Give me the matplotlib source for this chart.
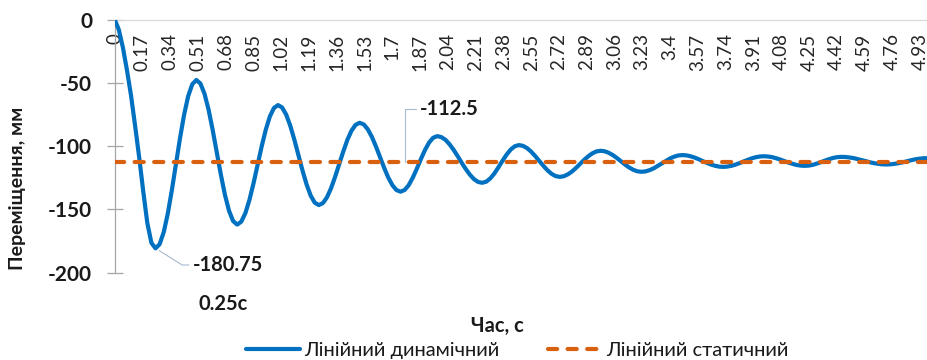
# plot.py
# Linear dynamic vs. linear static displacement (Excel-style chart)

import numpy as np
import matplotlib
matplotlib.use("Agg")
import matplotlib.pyplot as plt

plt.rcParams["font.family"] = ["Lato", "Noto Sans", "DejaVu Sans"]

# ── Data (time step 0.025 s) ────────────────────────────────────
TIME_STEP = 0.025
disp_dynamic = [
    0, -8, -22, -40, -60, -84, -109, -136, -161, -176.5, -180.75,
    -177.5, -168.1, -153.4, -134.8, -114.3, -93.7, -75.2, -60.5, -51.1, -47.8,
    -50.6, -58.7, -71.3, -87.3, -104.9, -122.5, -138.5, -151.1, -159.2, -162.0,
    -159.7, -153.0, -142.5, -129.4, -114.8, -100.2, -87.1, -76.6, -69.9, -67.6,
    -69.5, -75.1, -83.9, -94.9, -107.1, -119.3, -130.3, -139.1, -144.7, -146.6,
    -145.0, -140.4, -133.2, -124.1, -114.1, -104.1, -95.0, -87.8, -83.2, -81.6,
    -82.9, -86.8, -92.8, -100.4, -108.8, -117.2, -124.8, -130.8, -134.7, -136.0,
    -134.7, -130.9, -125.0, -117.9, -110.2, -103.1, -97.2, -93.4, -92.1,
    -92.9, -95.0, -98.5, -102.9, -107.9, -113.2, -118.2, -122.6, -126.1, -128.3, -129.0,
    -128.1, -125.5, -121.6, -116.7, -111.5, -106.7, -102.7, -100.1, -99.2,
    -99.8, -101.6, -104.4, -107.9, -111.8, -115.6, -119.1, -121.9, -123.7, -124.3,
    -123.8, -122.3, -120.1, -117.2, -114.0, -110.8, -108.0, -105.7, -104.2, -103.7,
    -104.1, -105.3, -107.1, -109.4, -112.0, -114.6, -116.9, -118.7, -119.9, -120.3,
    -120.0, -119.0, -117.6, -115.7, -113.7, -111.7, -109.8, -108.4, -107.4, -107.1,
    -107.3, -108.0, -109.0, -110.3, -111.8, -113.2, -114.5, -115.5, -116.2, -116.4,
    -116.2, -115.6, -114.7, -113.5, -112.2, -110.9, -109.7, -108.8, -108.2, -108.0,
    -108.2, -108.7, -109.6, -110.6, -111.8, -113.0, -114.0, -114.9, -115.4, -115.6,
    -115.4, -114.8, -113.8, -112.7, -111.4, -110.3, -109.3, -108.7, -108.5,
    -108.6, -109.0, -109.5, -110.3, -111.1, -111.9, -112.8, -113.5, -114.0, -114.4, -114.5,
    -114.4, -114.0, -113.5, -112.8, -112.0, -111.2, -110.5, -110.0, -109.6, -109.5,
    -109.6,
]
static_value = -112.5

x_tick_labels = ["0", "0.17", "0.34", "0.51", "0.68", "0.85", "1.02", "1.19",
                 "1.36", "1.53", "1.7", "1.87", "2.04", "2.21", "2.38", "2.55",
                 "2.72", "2.89", "3.06", "3.23", "3.4", "3.57", "3.74", "3.91",
                 "4.08", "4.25", "4.42", "4.59", "4.76", "4.93"]
y_ticks = [0, -50, -100, -150, -200]

series_names = ["Лінійний динамічний", "Лінійний статичний"]

# ── Styles ──────────────────────────────────────────────────────
BLUE = "#0070C0"
ORANGE = "#D9600F"
LEADER = "#A9B9CF"
TEXT = "#1a1a1a"

time_s = np.round(np.arange(len(disp_dynamic)) * TIME_STEP, 3)
disp_dynamic = np.array(disp_dynamic)
disp_static = np.full_like(time_s, static_value)

W, H = 928, 360
fig = plt.figure(figsize=(W / 100, H / 100), dpi=100)
ax = fig.add_axes([114.7 / W, 87.3 / H, (W - 114.7) / W, 253.2 / H])

line_dyn, = ax.plot(time_s, disp_dynamic, color=BLUE, lw=3,
                    solid_capstyle="round", solid_joinstyle="round",
                    zorder=3, label=series_names[0])
line_st, = ax.plot(time_s, disp_static, color=ORANGE, lw=3,
                   dashes=(2.2, 2.5), dash_capstyle="round",
                   zorder=4, label=series_names[1])

ax.set_xlim(0, 4.98)
ax.set_ylim(-200, 0)

for side in ("right", "bottom"):
    ax.spines[side].set_visible(False)
ax.spines["top"].set_color("#D9D9D9")
ax.spines["top"].set_linewidth(0.9)
ax.spines["left"].set_color("#A6A6A6")
ax.spines["left"].set_linewidth(0.9)

# y axis: bold labels, crossing ticks
ax.set_yticks(y_ticks, [str(v) for v in y_ticks], fontweight="bold",
              fontsize=15, color=TEXT)
ax.tick_params(axis="y", direction="inout", length=11.5, width=0.9,
               color="#A6A6A6", pad=10.5)

# x (category) axis sits on top at y = 0, labels inside below it
ax.xaxis.set_ticks_position("top")
ax.set_xticks([float(s) for s in x_tick_labels], x_tick_labels,
              rotation=90, va="top", ha="center", fontsize=13.5,
              color="#262626")
ax.tick_params(axis="x", length=0, pad=-10, labeltop=True, labelbottom=False)

# ── Data labels ────────────────────────────────────────────────
i_min = int(np.argmin(disp_dynamic))
ax.annotate(f"{disp_dynamic[i_min]:.2f}", xy=(time_s[i_min], disp_dynamic[i_min]),
            xytext=(27, -12), textcoords="offset points",
            ha="left", va="center", fontsize=14.5, fontweight="bold",
            color=TEXT,
            arrowprops=dict(arrowstyle="-", color=LEADER, lw=0.8,
                            shrinkA=1, shrinkB=3,
                            connectionstyle="angle,angleA=0,angleB=-32"))
ax.annotate(f"{time_s[i_min]:.2f}с", xy=(time_s[i_min], disp_dynamic[i_min]),
            xytext=(49, -40), textcoords="offset points",
            ha="center", va="center", fontsize=14.5, fontweight="bold",
            color=TEXT, annotation_clip=False)

i_lbl = 71
ax.annotate(f"{static_value}", xy=(time_s[i_lbl], disp_static[i_lbl]),
            xytext=(11, 38), textcoords="offset points",
            ha="left", va="center", fontsize=14.5, fontweight="bold",
            color=TEXT,
            arrowprops=dict(arrowstyle="-", color=LEADER, lw=0.8,
                            shrinkA=1, shrinkB=0,
                            connectionstyle="angle,angleA=0,angleB=90"))

# ── Axis titles & legend ───────────────────────────────────────
fig.text(18 / W, 1 - 188 / H, "Переміщення, мм", rotation=90,
         ha="center", va="center", fontsize=14, fontweight="bold", color=TEXT)
fig.text(497 / W, 1 - 326 / H, "Час, с", ha="center", va="center",
         fontsize=14.5, fontweight="bold", color=TEXT)

fig.legend(handles=[line_dyn, line_st], loc="center",
           bbox_to_anchor=(517 / W, 1 - 350 / H), ncol=2, frameon=False,
           fontsize=14.5, handlelength=2.7, handletextpad=0.2,
           columnspacing=2.4, borderpad=0, borderaxespad=0,
           labelcolor=TEXT)

fig.savefig("out.png", dpi=100)
plt.close(fig)
